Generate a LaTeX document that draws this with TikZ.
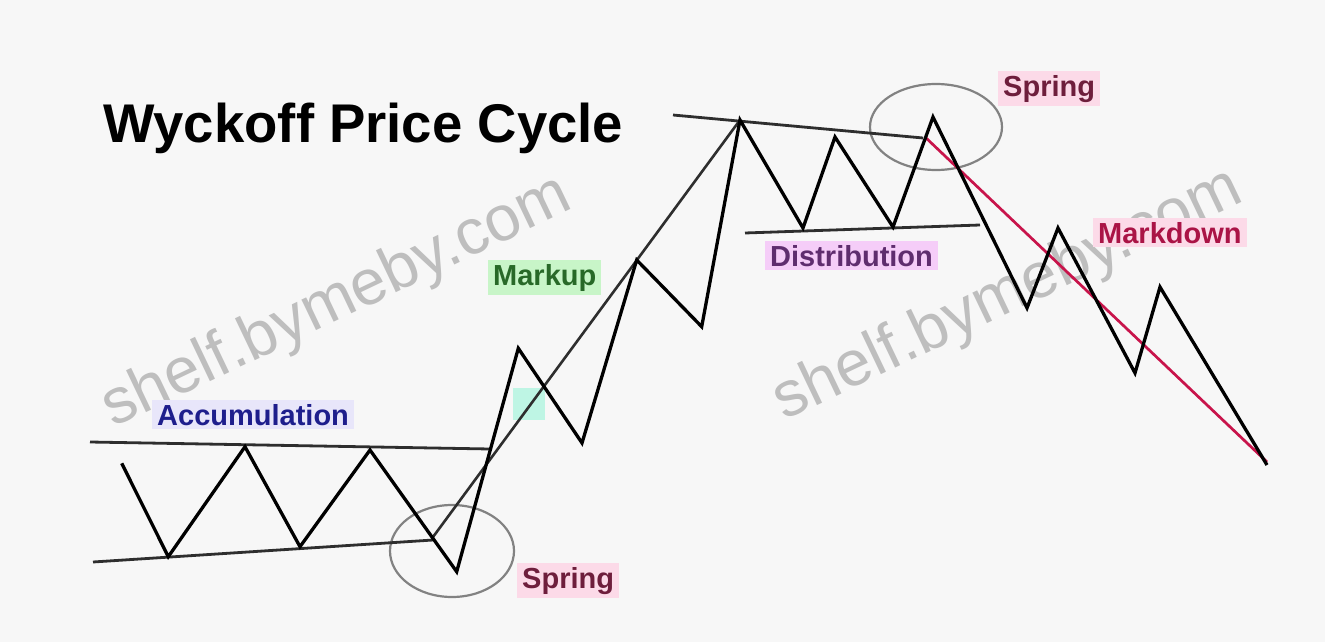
\documentclass[tikz,border=0pt]{standalone}
\usepackage{fontspec}
\setmainfont{Liberation Sans}
\definecolor{bgc}{RGB}{247,247,247}
\definecolor{wm}{RGB}{190,190,190}
\definecolor{accc}{RGB}{30,30,140}
\definecolor{accbg}{RGB}{232,230,250}
\definecolor{mkc}{RGB}{40,105,40}
\definecolor{mkbg}{RGB}{200,245,200}
\definecolor{dsc}{RGB}{95,45,110}
\definecolor{dsbg}{RGB}{245,205,248}
\definecolor{spc}{RGB}{110,30,60}
\definecolor{spbg}{RGB}{252,218,232}
\definecolor{mdc}{RGB}{170,20,70}
\definecolor{redl}{RGB}{200,20,75}
\definecolor{cyanbg}{RGB}{190,245,228}
\definecolor{circ}{RGB}{130,130,130}
\tikzset{
  price/.style={line width=3.3pt, black, line join=miter},
  support/.style={line width=2.8pt, black!82},
  trendl/.style={line width=2.6pt, black!82},
  redtrend/.style={line width=2.7pt, redl},
  ring/.style={line width=2.2pt, circ},
  lbl/.style={font=\bfseries\fontsize{29}{30}\selectfont, inner xsep=5pt, inner ysep=4pt, anchor=base west},
  watermark/.style={font=\fontsize{64}{64}\selectfont, text=wm, anchor=base west, rotate=25.5, inner sep=0pt}
}
\begin{document}
\begin{tikzpicture}[x=1pt,y=-1pt]
\fill[bgc] (0,0) rectangle (1325,642);
\useasboundingbox (0,0) rectangle (1325,642);

% watermarks
\node[watermark] (wm1) at (113,428) {shelf.bymeby.com};
\node[watermark] (wm2) at (784,421) {shelf.bymeby.com};

% title
\node[font=\bfseries\fontsize{54.5}{56}\selectfont, anchor=base west, inner sep=0pt] (title) at (103,142) {Wyckoff Price Cycle};

% label highlight boxes + labels
\node[lbl, fill=accbg, text=accc] (acc) at (152,425) {Accumulation};
\node[lbl, fill=mkbg, text=mkc] (mk) at (488,285) {Markup};
\node[lbl, fill=dsbg, text=dsc] (ds) at (765,266) {Distribution};
\node[lbl, fill=spbg, text=spc] (sp1) at (517,588) {Spring};
\node[lbl, fill=spbg, text=spc] (sp2) at (998,96) {Spring};
\node[lbl, fill=spbg, text=mdc] (md) at (1093,243) {Markdown};

% small cyan highlight
\fill[cyanbg] (513,388) rectangle (545,420);

% points
\coordinate (z1) at (121.7,463.3);
\coordinate (z2) at (168.3,556.7);
\coordinate (z3) at (245,446.7);
\coordinate (z4) at (300,546.7);
\coordinate (z5) at (370,450);
\coordinate (z6) at (456.7,571.7);
\coordinate (z7) at (518.3,348.3);
\coordinate (z8) at (582,443);
\coordinate (z9) at (636.7,260);
\coordinate (z10) at (701.7,326.7);
\coordinate (z11) at (740,120);
\coordinate (z12) at (803,228);
\coordinate (z13) at (835,137);
\coordinate (z14) at (893,227);
\coordinate (z15) at (933,117);
\coordinate (z16) at (1027,308);
\coordinate (z17) at (1058,228);
\coordinate (z18) at (1135,373);
\coordinate (z19) at (1160,287);
\coordinate (z20) at (1267,465);

\coordinate (atL) at (90,442);
\coordinate (atR) at (490,449);
\coordinate (abL) at (93,562);
\coordinate (abR) at (433,540);
\coordinate (muS) at (433,537);
\coordinate (dtL) at (673,115);
\coordinate (dtR) at (923,138);
\coordinate (dbL) at (745,233);
\coordinate (dbR) at (980,225);
\coordinate (rdS) at (925,137);
\coordinate (rdE) at (1267,462);

% circles
\draw[ring] (452,551) ellipse [x radius=62, y radius=46];
\draw[ring] (936,127) ellipse [x radius=66, y radius=43];

% support / resistance lines
\draw[support] (atL) -- (atR);
\draw[support] (abL) -- (abR);
\draw[support] (dtL) -- (dtR);
\draw[support] (dbL) -- (dbR);

% trend lines
\draw[trendl] (muS) -- (z11);
\draw[redtrend] (rdS) -- (rdE);

% price path
\draw[price] (z1) -- (z2) -- (z3) -- (z4) -- (z5) -- (z6) -- (z7) -- (z8) -- (z9) -- (z10) -- (z11) -- (z12) -- (z13) -- (z14) -- (z15) -- (z16) -- (z17) -- (z18) -- (z19) -- (z20);
\end{tikzpicture}
\end{document}
